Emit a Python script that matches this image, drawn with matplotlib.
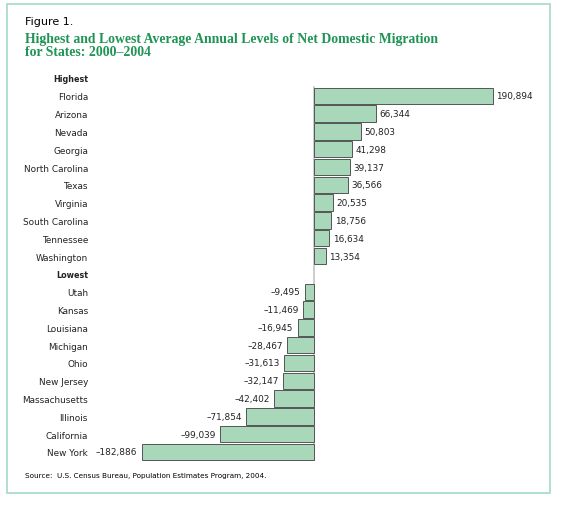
import matplotlib
matplotlib.use("Agg")
import matplotlib.pyplot as plt
from matplotlib.patches import Rectangle

# Data
highest_states = ["Florida", "Arizona", "Nevada", "Georgia", "North Carolina",
                  "Texas", "Virginia", "South Carolina", "Tennessee", "Washington"]
highest_values = [190894, 66344, 50803, 41298, 39137, 36566, 20535, 18756, 16634, 13354]

lowest_states = ["Utah", "Kansas", "Louisiana", "Michigan", "Ohio", "New Jersey",
                 "Massachusetts", "Illinois", "California", "New York"]
lowest_values = [-9495, -11469, -16945, -28467, -31613, -32147, -42402, -71854, -99039, -182886]

W, H = 563, 506
fig = plt.figure(figsize=(W / 100, H / 100), dpi=100)

# outer frame
fig.patches.append(Rectangle((7 / W, (H - 494) / H), 543 / W, 489 / H,
                             transform=fig.transFigure, fill=False,
                             edgecolor="#aadcc9", linewidth=1.3))

fig.text(25 / W, 1 - 22 / H, "Figure 1.", fontsize=8, color="black",
         va="center", ha="left", family="DejaVu Sans")
fig.text(25 / W, 1 - 46 / H,
         "Highest and Lowest Average Annual Levels of Net Domestic Migration\nfor States: 2000\u20132004",
         fontsize=9.9, fontweight="bold", color="#1f9455", family="Liberation Serif",
         va="center", ha="left", linespacing=1.02)
fig.text(25 / W, 1 - 476 / H, "Source:  U.S. Census Bureau, Population Estimates Program, 2004.",
         fontsize=5.2, color="black", va="center", ha="left")

# axes: slot 0 = "Highest" header, slots 1-10 highest, 11 = "Lowest" header, 12-21 lowest
left_px, right_px = 130, 515
zero_px = 313.5
k = (493 - zero_px) / highest_values[0]
slot_top, slot_bottom = 79, 453
sp = (slot_bottom - slot_top) / 21
ax_top = slot_top - sp / 2
ax_bot = slot_bottom + sp / 2
ax = fig.add_axes([left_px / W, (H - ax_bot) / H, (right_px - left_px) / W, (ax_bot - ax_top) / H])
ax.set_xlim(-(zero_px - left_px) / k, (right_px - zero_px) / k)
ax.set_ylim(21.5, -0.5)

labels = ["Highest"] + highest_states + ["Lowest"] + lowest_states
pos_hi = list(range(1, 11))
pos_lo = list(range(12, 22))

ax.axvline(0, ymin=0, ymax=1 - 1 / 22, color="#c4c4c4", linewidth=1.2, zorder=1)

ax.barh(pos_hi, highest_values, height=0.92, color="#a9d7b9", edgecolor="#555555",
        linewidth=0.7, zorder=2)
ax.barh(pos_lo, lowest_values, height=0.92, color="#a9d7b9", edgecolor="#555555",
        linewidth=0.7, zorder=2)

for p, v in zip(pos_hi, highest_values):
    ax.annotate(f"{v:,}", (v, p), xytext=(2.5, 0), textcoords="offset points",
                ha="left", va="center", fontsize=6.4, color="#222222")
for p, v in zip(pos_lo, lowest_values):
    ax.annotate(f"\u2013{abs(v):,}", (v, p), xytext=(-3, 0), textcoords="offset points",
                ha="right", va="center", fontsize=6.4, color="#222222")

ax.set_yticks(range(22))
ax.set_yticklabels(labels, fontsize=6.4, color="#222222")
ax.tick_params(axis="y", length=0, pad=(left_px - 88) / 100 * 72)
for t in ax.get_yticklabels():
    if t.get_text() in ("Highest", "Lowest"):
        t.set_fontweight("bold")
        t.set_fontsize(5.8)
ax.set_xticks([])
for s in ax.spines.values():
    s.set_visible(False)
ax.patch.set_alpha(0)

fig.savefig("out.png", dpi=100)
